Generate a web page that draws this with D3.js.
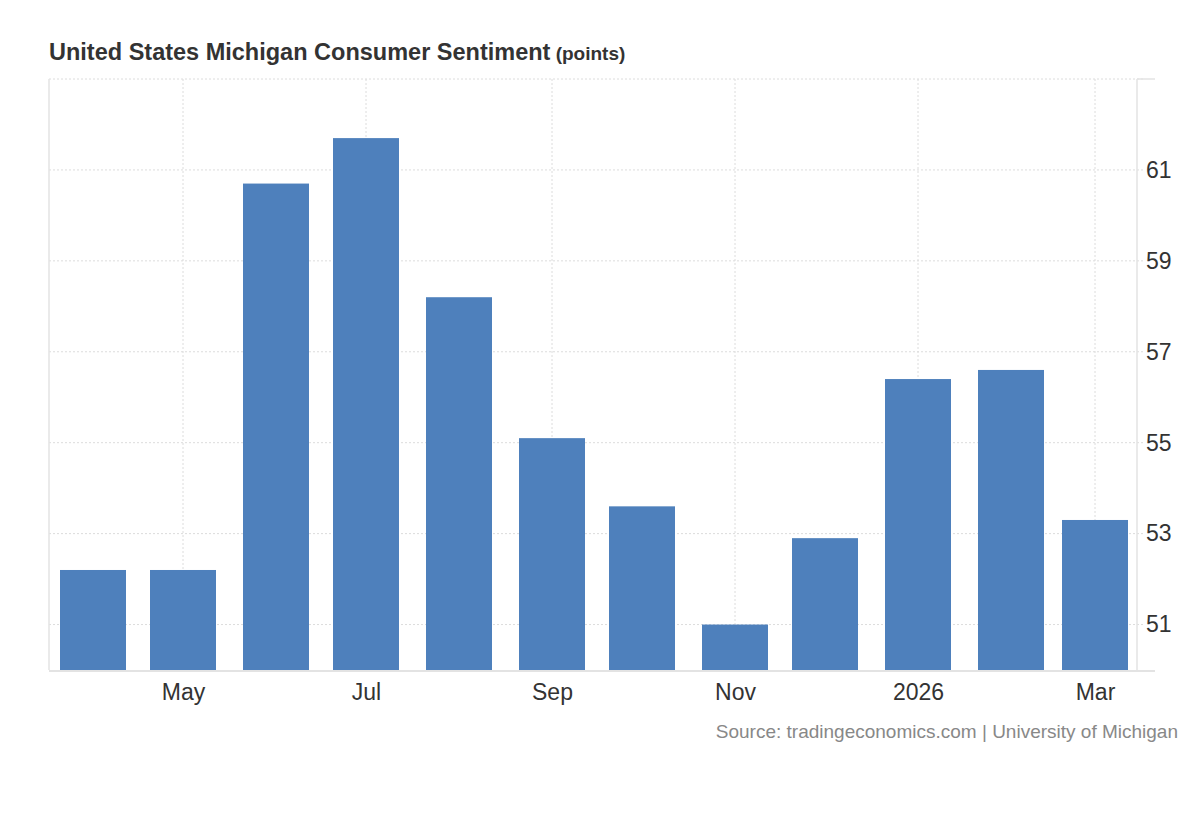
<!DOCTYPE html>
<html>
<head>
<meta charset="utf-8">
<script src="https://cdn.jsdelivr.net/npm/d3@7"></script>
<style>
  body { margin: 0; background: #fff; }
  svg { display: block; font-family: "Liberation Sans", Arial, Helvetica, sans-serif; }
</style>
</head>
<body>
<div class="chart"></div>
<script>
// monthly readings, Apr 2025 .. Mar 2026
const months = ["2025-04", "2025-05", "2025-06", "2025-07", "2025-08", "2025-09",
                "2025-10", "2025-11", "2025-12", "2026-01", "2026-02", "2026-03"];
const values = [52.2, 52.2, 60.7, 61.7, 58.2, 55.1, 53.6, 51.0, 52.9, 56.4, 56.6, 53.3];
const yTicks = [51, 53, 55, 57, 59, 61];
const xTickMonths = ["2025-05", "2025-07", "2025-09", "2025-11", "2026-01", "2026-03"];

const W = 1200, H = 820;
const m = {l: 49, r: 63, t: 79, b: 150};
const parse = d3.utcParse("%Y-%m");

const rows = months.map((d, i) => ({date: parse(d), value: values[i]}));

const svg = d3.select(".chart").append("svg")
  .attr("width", W).attr("height", H);

const x = d3.scaleUtc()
  .domain([new Date(Date.UTC(2025, 2, 17, 8)), new Date(Date.UTC(2026, 2, 15))])
  .range([m.l, W - m.r]);

const y = d3.scaleLinear()
  .domain([50, 63])
  .range([H - m.b, m.t]);

const grid = "#dcdcdc";
const axisCol = "#e3e3e3";

// horizontal grid
svg.append("g").selectAll("line")
  .data(yTicks.concat([63]))
  .join("line")
  .attr("x1", m.l).attr("x2", W - m.r + 8)
  .attr("y1", d => y(d)).attr("y2", d => y(d))
  .attr("stroke", grid).attr("stroke-dasharray", "2,2");

// vertical grid at labelled months
svg.append("g").selectAll("line")
  .data(xTickMonths.map(parse))
  .join("line")
  .attr("x1", d => x(d)).attr("x2", d => x(d))
  .attr("y1", m.t).attr("y2", H - m.b)
  .attr("stroke", grid).attr("stroke-dasharray", "2,2");

// bars
const barW = 66;
svg.append("g").selectAll("rect")
  .data(rows)
  .join("rect")
  .attr("x", d => x(d.date) - barW / 2)
  .attr("width", barW)
  .attr("y", d => y(d.value))
  .attr("height", d => y(50) - y(d.value))
  .attr("fill", "#4e80bc");

// frame lines
svg.append("line")
  .attr("x1", m.l).attr("x2", m.l).attr("y1", m.t).attr("y2", H - m.b)
  .attr("stroke", axisCol).attr("stroke-width", 1.5);
svg.append("line")
  .attr("x1", W - m.r).attr("x2", W - m.r).attr("y1", m.t).attr("y2", H - m.b)
  .attr("stroke", axisCol).attr("stroke-width", 1.5);
svg.append("line")
  .attr("x1", m.l).attr("x2", W - m.r + 18).attr("y1", H - m.b + 1).attr("y2", H - m.b + 1)
  .attr("stroke", axisCol).attr("stroke-width", 2);
svg.append("line")
  .attr("x1", W - m.r).attr("x2", W - m.r + 18).attr("y1", m.t).attr("y2", m.t)
  .attr("stroke", axisCol).attr("stroke-width", 1.5);

// y axis on the right
const yAxis = svg.append("g")
  .attr("transform", `translate(${W - m.r},0)`)
  .call(d3.axisRight(y).tickValues(yTicks).tickSize(0).tickPadding(9).tickFormat(d3.format("d")));
yAxis.select(".domain").remove();
yAxis.selectAll("text")
  .attr("font-size", 23).attr("fill", "#333")
  .attr("font-family", "Liberation Sans, Arial, sans-serif");

// x axis
const monthFmt = d => d.getUTCMonth() === 0 ? d3.utcFormat("%Y")(d) : d3.utcFormat("%b")(d);
const xAxis = svg.append("g")
  .attr("transform", `translate(0,${H - m.b})`)
  .call(d3.axisBottom(x).tickValues(xTickMonths.map(parse)).tickSize(0).tickPadding(14).tickFormat(monthFmt));
xAxis.select(".domain").remove();
xAxis.selectAll("text")
  .attr("font-size", 23).attr("fill", "#333")
  .attr("font-family", "Liberation Sans, Arial, sans-serif");

// title
const title = svg.append("text")
  .attr("x", 49).attr("y", 60)
  .attr("font-size", 23.5).attr("font-weight", "bold").attr("fill", "#333");
title.append("tspan").text("United States Michigan Consumer Sentiment");
title.append("tspan").attr("font-size", 19).text(" (points)");

// source
svg.append("text")
  .attr("x", 1178).attr("y", 738)
  .attr("text-anchor", "end")
  .attr("font-size", 19).attr("fill", "#888")
  .text("Source: tradingeconomics.com | University of Michigan");
</script>
</body>
</html>
